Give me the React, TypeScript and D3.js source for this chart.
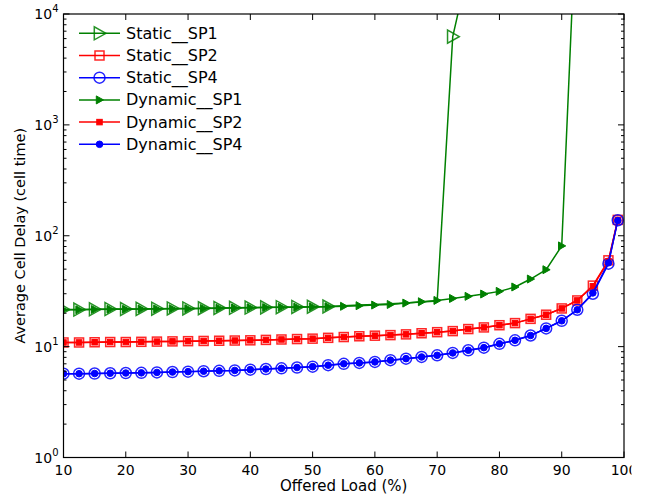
import React from 'react';
import * as d3 from 'd3';

// offered load (%) at each sample point
const loads = [10, 12.5, 15, 17.5, 20, 22.5, 25, 27.5, 30, 32.5, 35, 37.5, 40, 42.5, 45, 47.5, 50, 52.5,
  55, 57.5, 60, 62.5, 65, 67.5, 70, 72.5, 75, 77.5, 80, 82.5, 85, 87.5, 90, 92.5, 95, 97.5, 99];

// average cell delay (cell time); null = not plotted
const staticSP1 = [21.6, 21.6, 21.7, 21.8, 21.8, 21.9, 22.0, 22.1, 22.1, 22.2, 22.3, 22.4, 22.5, 22.6, 22.7, 22.8, 22.9, 23.0,
  23.4, 23.7, 24.0, 24.3, 24.8, 25.3, 25.8, 6250, 26000, null, null, null, null, null, null, null, null, null, null];
const staticSP2 = [10.9, 10.9, 10.95, 11.0, 11.0, 11.05, 11.1, 11.15, 11.2, 11.25, 11.3, 11.35, 11.4, 11.5, 11.6, 11.7, 11.8, 12.0,
  12.2, 12.4, 12.55, 12.7, 12.9, 13.2, 13.5, 13.8, 14.4, 14.9, 15.6, 16.3, 17.8, 19.4, 22.1, 26.1, 35.5, 60, 139];
const staticSP4 = [5.7, 5.7, 5.72, 5.75, 5.78, 5.8, 5.85, 5.9, 5.95, 6.0, 6.05, 6.1, 6.2, 6.28, 6.37, 6.48, 6.6, 6.8,
  7.0, 7.13, 7.28, 7.55, 7.79, 8.07, 8.35, 8.77, 9.27, 9.79, 10.6, 11.4, 12.6, 14.6, 17.1, 21.5, 30.0, 56, 138];
const dynamicSP1 = [21.5, 21.5, 21.6, 21.7, 21.7, 21.8, 21.9, 22.0, 22.0, 22.1, 22.2, 22.3, 22.4, 22.5, 22.6, 22.7, 22.8, 22.9,
  23.1, 23.4, 23.7, 24.0, 24.7, 25.4, 26.1, 27.2, 28.4, 29.8, 31.5, 34.5, 40.7, 49.4, 81, 140000, null, null, null];
const dynamicSP2 = [10.9, 10.9, 10.95, 11.0, 11.0, 11.05, 11.1, 11.15, 11.2, 11.25, 11.3, 11.35, 11.4, 11.5, 11.6, 11.7, 11.8, 12.0,
  12.2, 12.4, 12.55, 12.7, 12.9, 13.2, 13.5, 13.8, 14.4, 14.9, 15.6, 16.3, 17.8, 19.4, 22.1, 26.1, 35.0, 58.7, 139];
const dynamicSP4 = [5.7, 5.7, 5.72, 5.75, 5.78, 5.8, 5.85, 5.9, 5.95, 6.0, 6.05, 6.1, 6.2, 6.28, 6.37, 6.48, 6.6, 6.8,
  7.0, 7.13, 7.28, 7.55, 7.79, 8.07, 8.35, 8.77, 9.27, 9.79, 10.6, 11.4, 12.6, 14.6, 17.1, 21.5, 30.5, 57, 137];

const xTicks = [10, 20, 30, 40, 50, 60, 70, 80, 90, 100];
const yDecades = [0, 1, 2, 3, 4];

const font = 'DejaVu Sans, sans-serif';

type Marker = 'tri' | 'square' | 'circle';

const series = [
  { name: 'Static__SP1', values: staticSP1, color: '#008000', marker: 'tri' as Marker, open: true },
  { name: 'Static__SP2', values: staticSP2, color: '#ff0000', marker: 'square' as Marker, open: true },
  { name: 'Static__SP4', values: staticSP4, color: '#0000ff', marker: 'circle' as Marker, open: true },
  { name: 'Dynamic__SP1', values: dynamicSP1, color: '#008000', marker: 'tri' as Marker, open: false },
  { name: 'Dynamic__SP2', values: dynamicSP2, color: '#ff0000', marker: 'square' as Marker, open: false },
  { name: 'Dynamic__SP4', values: dynamicSP4, color: '#0000ff', marker: 'circle' as Marker, open: false },
];

function MarkerShape({ kind, open, color, x, y }: { kind: Marker; open: boolean; color: string; x: number; y: number }) {
  const props = open
    ? { fill: 'none', stroke: color, strokeWidth: 1.5, strokeOpacity: 0.85 }
    : { fill: color, stroke: color, strokeWidth: 1 };
  if (kind === 'tri') {
    const h = open ? 6.5 : 4;
    const pts = `${x + h},${y} ${x - h * 0.8},${y - h} ${x - h * 0.8},${y + h}`;
    return <polygon points={pts} {...props} />;
  }
  if (kind === 'square') {
    const s = open ? 9 : 5.5;
    return <rect x={x - s / 2} y={y - s / 2} width={s} height={s} {...props} />;
  }
  return <circle cx={x} cy={y} r={open ? 5.5 : 3.3} {...props} />;
}

export default function App() {
  const W = 645, H = 498;
  const left = 63.5, right = 624, top = 14, bottom = 457.5;

  const x = d3.scaleLinear().domain([10, 100]).range([left, right]);
  const y = d3.scaleLog().domain([1, 10000]).range([bottom, top]);

  const line = d3.line<[number, number | null]>()
    .defined(d => d[1] != null)
    .x(d => x(d[0]))
    .y(d => y(d[1] as number));

  // static SP1 shows no open markers between these loads
  const hideFrom = 55, hideTo = 70;

  const minor: number[] = [];
  for (let d = 0; d < 4; d++) for (let k = 2; k <= 9; k++) minor.push(k * Math.pow(10, d));

  const legendRows = series.map((s, i) => ({ ...s, ly: 33.3 + i * 22.2 }));

  return (
    <svg width={W} height={H} style={{ position: 'absolute', left: 0, top: 0, background: '#fff' }}>
      <defs>
        <clipPath id="plot"><rect x={left} y={top} width={right - left} height={bottom - top} /></clipPath>
        <clipPath id="fig"><rect x={0} y={0} width={631.5} height={H} /></clipPath>
      </defs>
      <rect width={W} height={H} fill="#fff" />
      <g clipPath="url(#fig)">
        <g clipPath="url(#plot)">
          {series.map(s => {
            const pts = loads.map((l, i) => [l, s.values[i]] as [number, number | null]);
            return (
              <g key={s.name}>
                <path d={line(pts) || ''} fill="none" stroke={s.color} strokeWidth={1.5} />
                {pts.filter(p => p[1] != null)
                  .filter(p => !(s.name === 'Static__SP1' && p[0] >= hideFrom && p[0] <= hideTo))
                  .map((p, i) => (
                    <MarkerShape key={i} kind={s.marker} open={s.open} color={s.color} x={x(p[0])} y={y(p[1] as number)} />
                  ))}
              </g>
            );
          })}
        </g>

        {/* frame */}
        <rect x={left} y={top} width={right - left} height={bottom - top} fill="none" stroke="#000" strokeWidth={1.2} />

        {/* x ticks */}
        {xTicks.map(t => (
          <g key={t}>
            <line x1={x(t)} x2={x(t)} y1={bottom} y2={bottom - 6} stroke="#000" />
            <line x1={x(t)} x2={x(t)} y1={top} y2={top + 6} stroke="#000" />
            <text x={x(t)} y={bottom + 17.5} textAnchor="middle" fontFamily={font} fontSize={14}>{t}</text>
          </g>
        ))}

        {/* y ticks */}
        {yDecades.map(d => {
          const yy = y(Math.pow(10, d));
          return (
            <g key={d}>
              <line x1={left} x2={left + 6} y1={yy} y2={yy} stroke="#000" />
              <line x1={right} x2={right - 6} y1={yy} y2={yy} stroke="#000" />
              <text x={left - 5} y={yy + 5} textAnchor="end" fontFamily={font} fontSize={14}>
                10<tspan dy={-7} fontSize={10}>{d}</tspan>
              </text>
            </g>
          );
        })}
        {minor.map(m => (
          <g key={m}>
            <line x1={left} x2={left + 3} y1={y(m)} y2={y(m)} stroke="#000" />
            <line x1={right} x2={right - 3} y1={y(m)} y2={y(m)} stroke="#000" />
          </g>
        ))}

        {/* axis labels */}
        <text x={(left + right) / 2} y={491} textAnchor="middle" fontFamily={font} fontSize={15}>Offered Load (%)</text>
        <text transform={`translate(25,${(top + bottom) / 2}) rotate(-90)`} textAnchor="middle" fontFamily={font} fontSize={14.5}>
          Average Cell Delay (cell time)
        </text>

        {/* legend */}
        {legendRows.map(r => (
          <g key={r.name}>
            <line x1={79} x2={120} y1={r.ly} y2={r.ly} stroke={r.color} strokeWidth={1.5} />
            <MarkerShape kind={r.marker} open={r.open} color={r.color} x={99.5} y={r.ly} />
            <text x={126} y={r.ly + 5.5} fontFamily={font} fontSize={16}>{r.name}</text>
          </g>
        ))}
      </g>
    </svg>
  );
}
